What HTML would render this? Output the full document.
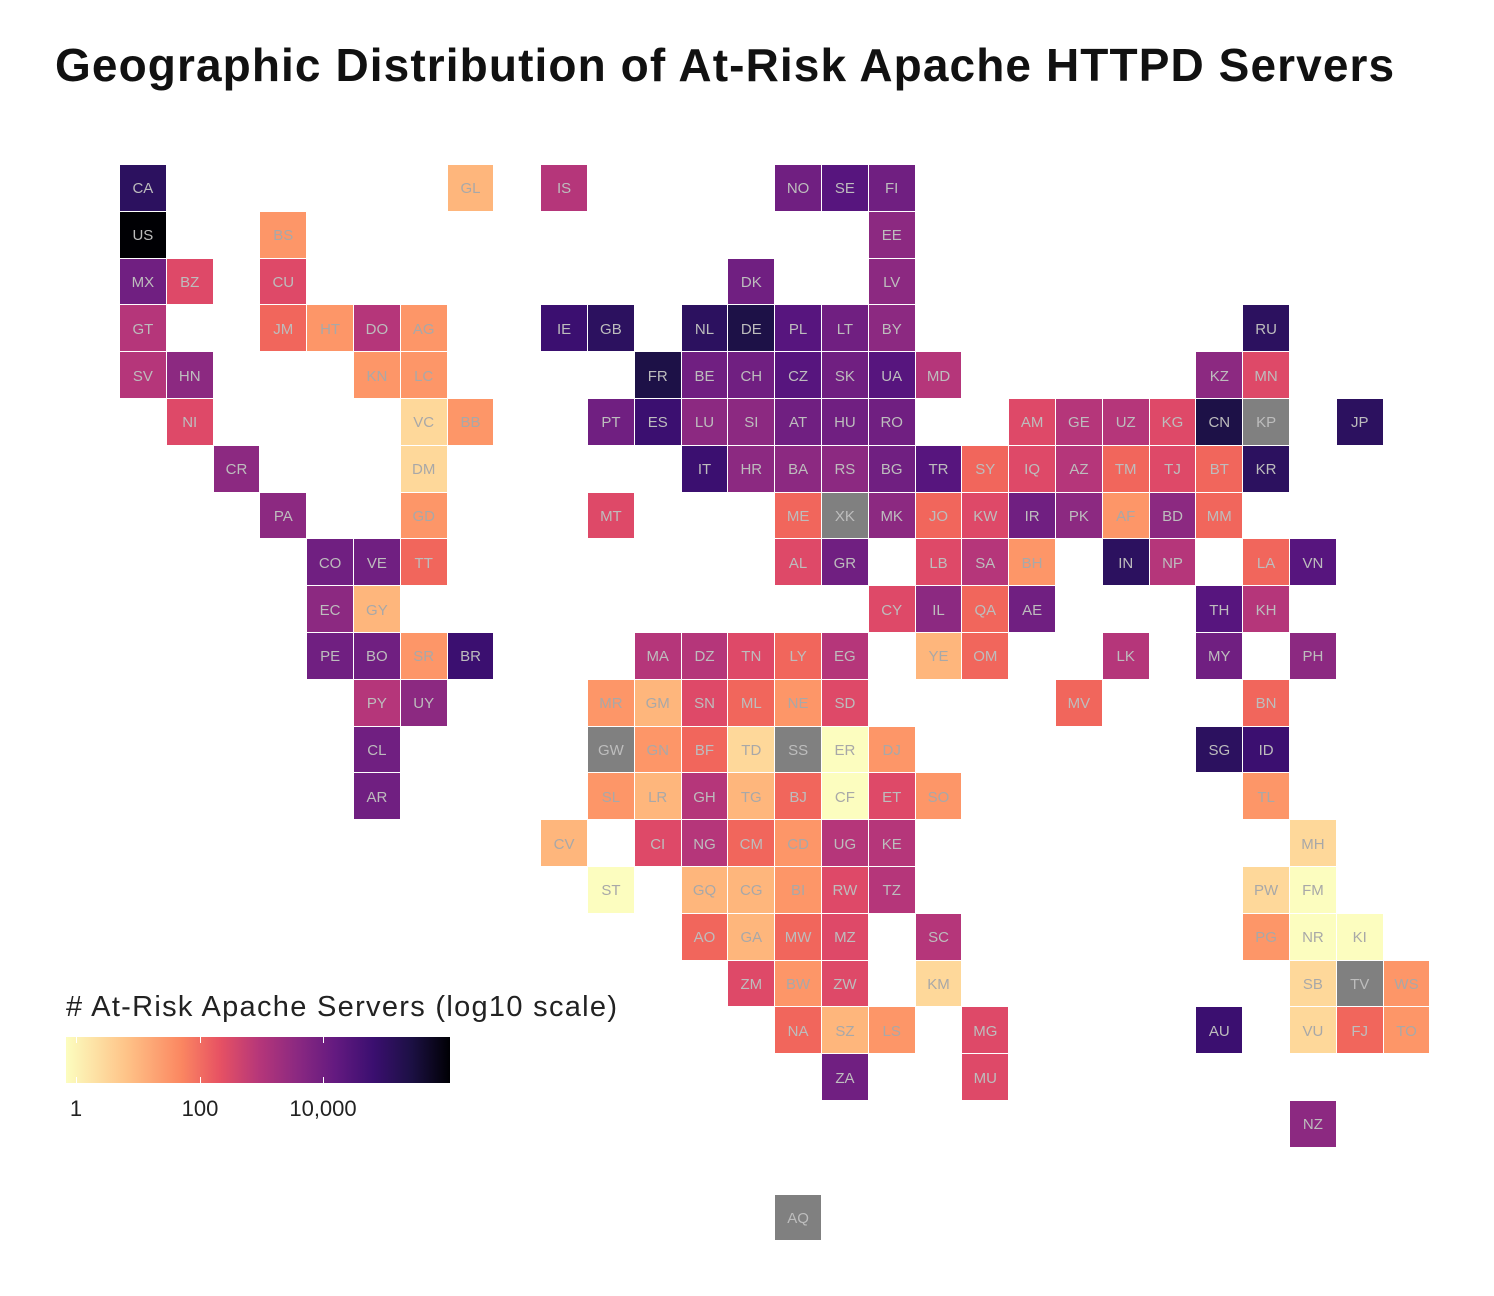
<!DOCTYPE html>
<html><head><meta charset="utf-8">
<style>
html,body{margin:0;padding:0;background:#fff;}
body{width:1494px;height:1296px;position:relative;overflow:hidden;font-family:"Liberation Sans",sans-serif;}
h1{position:absolute;left:55px;top:38px;margin:0;font-size:46px;font-weight:bold;color:#111;letter-spacing:1.1px;white-space:nowrap;}
.t{position:absolute;width:45.8px;height:45.8px;left:calc(120px + var(--c)*46.8px);top:calc(165px + var(--r)*46.8px);box-sizing:border-box;color:#bdbdbd;font-size:15px;display:flex;align-items:center;justify-content:center;padding-top:2px;}
.k0{background:#000004}.k1{background:#1d1147}.k2{background:#2c115f}.k3{background:#3b0f70}
.k4{background:#57157e}.k5{background:#701f81}.k6{background:#8c2981}.k7{background:#b5367a}
.k8{background:#de4968}.k9{background:#f1665c}.k10{background:#fd9668}.k11{background:#feb67c}
.k12{background:#fed89a}.k13{background:#fcfdbf}.g{background:#808080}
.k11,.k12,.k13,.k10{color:#a8a8a8}
.lt{position:absolute;left:66px;top:991px;font-size:29px;color:#222;letter-spacing:1.3px;white-space:nowrap;}
.bar{position:absolute;left:66px;top:1037px;width:384px;height:46px;background:linear-gradient(to right,#fcfdbf 0%,#fec287 16%,#fb8761 30%,#e75263 40%,#b73779 50%,#8c2981 60%,#641a80 70%,#3b0f70 80%,#1c1044 90%,#000004 100%);}
.tk{position:absolute;width:1px;height:6px;background:#fff;}
.tl{position:absolute;top:1096px;font-size:22px;color:#222;transform:translateX(-50%);}
</style></head><body>
<h1>Geographic Distribution of At-Risk Apache HTTPD Servers</h1>

<div class="t k2" style="--c:0;--r:0">CA</div>
<div class="t k11" style="--c:7;--r:0">GL</div>
<div class="t k7" style="--c:9;--r:0">IS</div>
<div class="t k5" style="--c:14;--r:0">NO</div>
<div class="t k4" style="--c:15;--r:0">SE</div>
<div class="t k5" style="--c:16;--r:0">FI</div>

<div class="t k0" style="--c:0;--r:1">US</div>
<div class="t k10" style="--c:3;--r:1">BS</div>
<div class="t k6" style="--c:16;--r:1">EE</div>

<div class="t k5" style="--c:0;--r:2">MX</div>
<div class="t k8" style="--c:1;--r:2">BZ</div>
<div class="t k8" style="--c:3;--r:2">CU</div>
<div class="t k5" style="--c:13;--r:2">DK</div>
<div class="t k6" style="--c:16;--r:2">LV</div>

<div class="t k7" style="--c:0;--r:3">GT</div>
<div class="t k9" style="--c:3;--r:3">JM</div>
<div class="t k10" style="--c:4;--r:3">HT</div>
<div class="t k7" style="--c:5;--r:3">DO</div>
<div class="t k10" style="--c:6;--r:3">AG</div>
<div class="t k3" style="--c:9;--r:3">IE</div>
<div class="t k2" style="--c:10;--r:3">GB</div>
<div class="t k2" style="--c:12;--r:3">NL</div>
<div class="t k1" style="--c:13;--r:3">DE</div>
<div class="t k4" style="--c:14;--r:3">PL</div>
<div class="t k5" style="--c:15;--r:3">LT</div>
<div class="t k6" style="--c:16;--r:3">BY</div>
<div class="t k2" style="--c:24;--r:3">RU</div>

<div class="t k7" style="--c:0;--r:4">SV</div>
<div class="t k6" style="--c:1;--r:4">HN</div>
<div class="t k10" style="--c:5;--r:4">KN</div>
<div class="t k10" style="--c:6;--r:4">LC</div>
<div class="t k1" style="--c:11;--r:4">FR</div>
<div class="t k5" style="--c:12;--r:4">BE</div>
<div class="t k5" style="--c:13;--r:4">CH</div>
<div class="t k4" style="--c:14;--r:4">CZ</div>
<div class="t k5" style="--c:15;--r:4">SK</div>
<div class="t k4" style="--c:16;--r:4">UA</div>
<div class="t k7" style="--c:17;--r:4">MD</div>
<div class="t k6" style="--c:23;--r:4">KZ</div>
<div class="t k8" style="--c:24;--r:4">MN</div>

<div class="t k8" style="--c:1;--r:5">NI</div>
<div class="t k12" style="--c:6;--r:5">VC</div>
<div class="t k10" style="--c:7;--r:5">BB</div>
<div class="t k5" style="--c:10;--r:5">PT</div>
<div class="t k3" style="--c:11;--r:5">ES</div>
<div class="t k6" style="--c:12;--r:5">LU</div>
<div class="t k6" style="--c:13;--r:5">SI</div>
<div class="t k5" style="--c:14;--r:5">AT</div>
<div class="t k5" style="--c:15;--r:5">HU</div>
<div class="t k5" style="--c:16;--r:5">RO</div>
<div class="t k8" style="--c:19;--r:5">AM</div>
<div class="t k7" style="--c:20;--r:5">GE</div>
<div class="t k7" style="--c:21;--r:5">UZ</div>
<div class="t k8" style="--c:22;--r:5">KG</div>
<div class="t k1" style="--c:23;--r:5">CN</div>
<div class="t g" style="--c:24;--r:5">KP</div>
<div class="t k2" style="--c:26;--r:5">JP</div>

<div class="t k6" style="--c:2;--r:6">CR</div>
<div class="t k12" style="--c:6;--r:6">DM</div>
<div class="t k3" style="--c:12;--r:6">IT</div>
<div class="t k6" style="--c:13;--r:6">HR</div>
<div class="t k6" style="--c:14;--r:6">BA</div>
<div class="t k6" style="--c:15;--r:6">RS</div>
<div class="t k5" style="--c:16;--r:6">BG</div>
<div class="t k4" style="--c:17;--r:6">TR</div>
<div class="t k9" style="--c:18;--r:6">SY</div>
<div class="t k8" style="--c:19;--r:6">IQ</div>
<div class="t k7" style="--c:20;--r:6">AZ</div>
<div class="t k9" style="--c:21;--r:6">TM</div>
<div class="t k8" style="--c:22;--r:6">TJ</div>
<div class="t k9" style="--c:23;--r:6">BT</div>
<div class="t k2" style="--c:24;--r:6">KR</div>

<div class="t k6" style="--c:3;--r:7">PA</div>
<div class="t k10" style="--c:6;--r:7">GD</div>
<div class="t k8" style="--c:10;--r:7">MT</div>
<div class="t k9" style="--c:14;--r:7">ME</div>
<div class="t g" style="--c:15;--r:7">XK</div>
<div class="t k6" style="--c:16;--r:7">MK</div>
<div class="t k9" style="--c:17;--r:7">JO</div>
<div class="t k8" style="--c:18;--r:7">KW</div>
<div class="t k5" style="--c:19;--r:7">IR</div>
<div class="t k6" style="--c:20;--r:7">PK</div>
<div class="t k10" style="--c:21;--r:7">AF</div>
<div class="t k6" style="--c:22;--r:7">BD</div>
<div class="t k9" style="--c:23;--r:7">MM</div>

<div class="t k5" style="--c:4;--r:8">CO</div>
<div class="t k5" style="--c:5;--r:8">VE</div>
<div class="t k9" style="--c:6;--r:8">TT</div>
<div class="t k8" style="--c:14;--r:8">AL</div>
<div class="t k5" style="--c:15;--r:8">GR</div>
<div class="t k8" style="--c:17;--r:8">LB</div>
<div class="t k7" style="--c:18;--r:8">SA</div>
<div class="t k10" style="--c:19;--r:8">BH</div>
<div class="t k2" style="--c:21;--r:8">IN</div>
<div class="t k7" style="--c:22;--r:8">NP</div>
<div class="t k9" style="--c:24;--r:8">LA</div>
<div class="t k4" style="--c:25;--r:8">VN</div>

<div class="t k6" style="--c:4;--r:9">EC</div>
<div class="t k11" style="--c:5;--r:9">GY</div>
<div class="t k8" style="--c:16;--r:9">CY</div>
<div class="t k6" style="--c:17;--r:9">IL</div>
<div class="t k9" style="--c:18;--r:9">QA</div>
<div class="t k5" style="--c:19;--r:9">AE</div>
<div class="t k4" style="--c:23;--r:9">TH</div>
<div class="t k7" style="--c:24;--r:9">KH</div>

<div class="t k5" style="--c:4;--r:10">PE</div>
<div class="t k5" style="--c:5;--r:10">BO</div>
<div class="t k10" style="--c:6;--r:10">SR</div>
<div class="t k3" style="--c:7;--r:10">BR</div>
<div class="t k7" style="--c:11;--r:10">MA</div>
<div class="t k7" style="--c:12;--r:10">DZ</div>
<div class="t k8" style="--c:13;--r:10">TN</div>
<div class="t k9" style="--c:14;--r:10">LY</div>
<div class="t k7" style="--c:15;--r:10">EG</div>
<div class="t k11" style="--c:17;--r:10">YE</div>
<div class="t k9" style="--c:18;--r:10">OM</div>
<div class="t k7" style="--c:21;--r:10">LK</div>
<div class="t k5" style="--c:23;--r:10">MY</div>
<div class="t k6" style="--c:25;--r:10">PH</div>

<div class="t k7" style="--c:5;--r:11">PY</div>
<div class="t k6" style="--c:6;--r:11">UY</div>
<div class="t k10" style="--c:10;--r:11">MR</div>
<div class="t k11" style="--c:11;--r:11">GM</div>
<div class="t k8" style="--c:12;--r:11">SN</div>
<div class="t k9" style="--c:13;--r:11">ML</div>
<div class="t k10" style="--c:14;--r:11">NE</div>
<div class="t k8" style="--c:15;--r:11">SD</div>
<div class="t k9" style="--c:20;--r:11">MV</div>
<div class="t k9" style="--c:24;--r:11">BN</div>

<div class="t k5" style="--c:5;--r:12">CL</div>
<div class="t g" style="--c:10;--r:12">GW</div>
<div class="t k10" style="--c:11;--r:12">GN</div>
<div class="t k9" style="--c:12;--r:12">BF</div>
<div class="t k12" style="--c:13;--r:12">TD</div>
<div class="t g" style="--c:14;--r:12">SS</div>
<div class="t k13" style="--c:15;--r:12">ER</div>
<div class="t k10" style="--c:16;--r:12">DJ</div>
<div class="t k2" style="--c:23;--r:12">SG</div>
<div class="t k3" style="--c:24;--r:12">ID</div>

<div class="t k5" style="--c:5;--r:13">AR</div>
<div class="t k10" style="--c:10;--r:13">SL</div>
<div class="t k11" style="--c:11;--r:13">LR</div>
<div class="t k7" style="--c:12;--r:13">GH</div>
<div class="t k11" style="--c:13;--r:13">TG</div>
<div class="t k9" style="--c:14;--r:13">BJ</div>
<div class="t k13" style="--c:15;--r:13">CF</div>
<div class="t k8" style="--c:16;--r:13">ET</div>
<div class="t k10" style="--c:17;--r:13">SO</div>
<div class="t k10" style="--c:24;--r:13">TL</div>

<div class="t k11" style="--c:9;--r:14">CV</div>
<div class="t k8" style="--c:11;--r:14">CI</div>
<div class="t k7" style="--c:12;--r:14">NG</div>
<div class="t k9" style="--c:13;--r:14">CM</div>
<div class="t k10" style="--c:14;--r:14">CD</div>
<div class="t k7" style="--c:15;--r:14">UG</div>
<div class="t k7" style="--c:16;--r:14">KE</div>
<div class="t k12" style="--c:25;--r:14">MH</div>

<div class="t k13" style="--c:10;--r:15">ST</div>
<div class="t k11" style="--c:12;--r:15">GQ</div>
<div class="t k11" style="--c:13;--r:15">CG</div>
<div class="t k10" style="--c:14;--r:15">BI</div>
<div class="t k8" style="--c:15;--r:15">RW</div>
<div class="t k7" style="--c:16;--r:15">TZ</div>
<div class="t k12" style="--c:24;--r:15">PW</div>
<div class="t k13" style="--c:25;--r:15">FM</div>

<div class="t k9" style="--c:12;--r:16">AO</div>
<div class="t k11" style="--c:13;--r:16">GA</div>
<div class="t k9" style="--c:14;--r:16">MW</div>
<div class="t k8" style="--c:15;--r:16">MZ</div>
<div class="t k7" style="--c:17;--r:16">SC</div>
<div class="t k10" style="--c:24;--r:16">PG</div>
<div class="t k13" style="--c:25;--r:16">NR</div>
<div class="t k13" style="--c:26;--r:16">KI</div>

<div class="t k8" style="--c:13;--r:17">ZM</div>
<div class="t k10" style="--c:14;--r:17">BW</div>
<div class="t k8" style="--c:15;--r:17">ZW</div>
<div class="t k12" style="--c:17;--r:17">KM</div>
<div class="t k12" style="--c:25;--r:17">SB</div>
<div class="t g" style="--c:26;--r:17">TV</div>
<div class="t k10" style="--c:27;--r:17">WS</div>

<div class="t k9" style="--c:14;--r:18">NA</div>
<div class="t k11" style="--c:15;--r:18">SZ</div>
<div class="t k10" style="--c:16;--r:18">LS</div>
<div class="t k8" style="--c:18;--r:18">MG</div>
<div class="t k3" style="--c:23;--r:18">AU</div>
<div class="t k12" style="--c:25;--r:18">VU</div>
<div class="t k9" style="--c:26;--r:18">FJ</div>
<div class="t k10" style="--c:27;--r:18">TO</div>

<div class="t k5" style="--c:15;--r:19">ZA</div>
<div class="t k8" style="--c:18;--r:19">MU</div>
<div class="t k6" style="--c:25;--r:20">NZ</div>
<div class="t g" style="--c:14;--r:22">AQ</div>

<div class="lt"># At-Risk Apache Servers (log10 scale)</div>
<div class="bar"></div>
<div class="tk" style="left:76px;top:1037px"></div><div class="tk" style="left:76px;top:1077px"></div>
<div class="tk" style="left:200px;top:1037px"></div><div class="tk" style="left:200px;top:1077px"></div>
<div class="tk" style="left:323px;top:1037px"></div><div class="tk" style="left:323px;top:1077px"></div>
<div class="tl" style="left:76px">1</div>
<div class="tl" style="left:200px">100</div>
<div class="tl" style="left:323px">10,000</div>
</body></html>
